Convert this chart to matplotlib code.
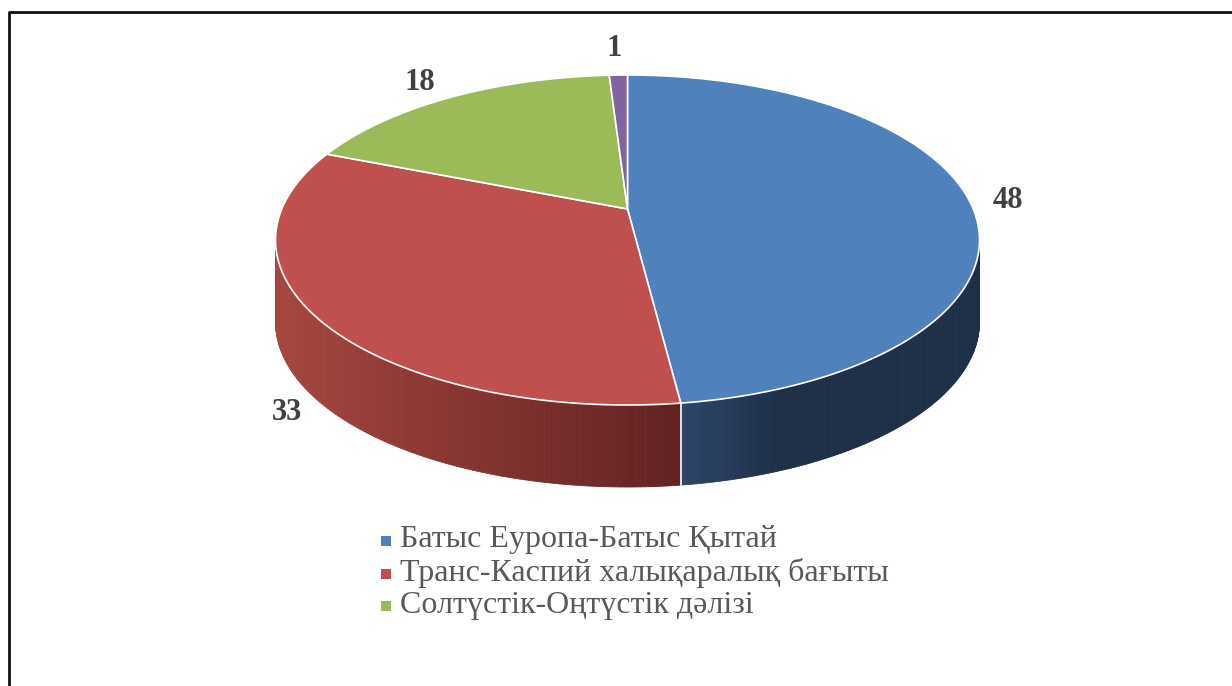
import numpy as np
import matplotlib.pyplot as plt
from matplotlib.colors import to_rgb
from matplotlib.patches import Polygon

# chart data
categories = ['Батыс Еуропа-Батыс Қытай',
              'Транс-Каспий халықаралық бағыты',
              'Солтүстік-Оңтүстік дәлізі',
              '']
values = [48, 33, 18, 1]
labels = ['48', '33', '18', '1']
top_colors = ['#4F81BD', '#C0504D', '#9BBB59', '#8064A2']
side_left = ['#2C4669', '#A6463F', '#7E9A45', '#5E4A7A']
side_right = ['#1E2F48', '#622222', '#55692E', '#3F3152']

# layout (pixels)
W, H = 1232, 686
cx, cy, a, b, depth = 627.5, 240, 352, 165, 82
persp = 0.188  # apex shift toward the back (perspective), fraction of b
ch, sh = 1 / np.sqrt(1 - persp**2), persp / np.sqrt(1 - persp**2)


def warp(t):
    # true pie angle -> angle on the projected ellipse
    t = np.radians(t)
    u, v = np.cos(t), np.sin(t)
    w = sh * v + ch
    return np.degrees(np.arctan2((ch * v + sh) / w, u / w))


def pt(t):
    t = np.radians(t)
    return cx + a * np.cos(t), cy - b * np.sin(t)


def unwrap_to(t, ref):
    while t > ref + 1e-9:
        t -= 360
    return t


fig = plt.figure(figsize=(W / 100, H / 100), dpi=100)
ax = fig.add_axes([0, 0, 1, 1])
ax.set_xlim(0, W)
ax.set_ylim(H, 0)
ax.axis('off')

# slice angles, clockwise from 12 o'clock, then projected
fracs = np.array(values) / sum(values)
starts = 90 - 360 * np.concatenate([[0], np.cumsum(fracs)[:-1]])
ends = starts - 360 * fracs
p_starts = [warp(s) for s in starts]
p_ends = []
for s, e, ps in zip(starts, ends, p_starts):
    pe = warp(e)
    pe = unwrap_to(pe, ps)
    if pe >= ps:
        pe -= 360
    p_ends.append(pe)
apex = (cx, cy - persp * b)

# side walls (front half only, angles -180..0)
for i in range(len(values)):
    s, e = p_starts[i], p_ends[i]
    for off in (0, -360, 360):
        lo = max(e + off, -180)
        hi = min(s + off, 0)
        if hi <= lo:
            continue
        ts = np.linspace(lo, hi, 120)
        xs_all = [pt(t)[0] for t in ts]
        x0, x1 = min(xs_all), max(xs_all)
        c0, c1 = np.array(to_rgb(side_left[i])), np.array(to_rgb(side_right[i]))
        for t1, t2 in zip(ts[:-1], ts[1:]):
            p1, p2 = pt(t1), pt(t2)
            xm = (p1[0] + p2[0]) / 2
            f = (xm - x0) / (x1 - x0) if x1 > x0 else 0
            if i == 0:
                f = min(1, f * 3)
            col = c0 + (c1 - c0) * f
            poly = Polygon([p1, p2, (p2[0], p2[1] + depth), (p1[0], p1[1] + depth)],
                           closed=True, facecolor=col, edgecolor=col, lw=0.6)
            ax.add_patch(poly)

# white vertical edge at blue/red boundary
bx, by = pt(p_ends[0])
ax.plot([bx, bx], [by, by + depth], color='white', lw=1.2)

# top faces
for i in range(len(values)):
    ts = np.linspace(p_starts[i], p_ends[i], 200)
    pts = [apex] + [pt(t) for t in ts]
    ax.add_patch(Polygon(pts, closed=True, facecolor=top_colors[i],
                         edgecolor='white', lw=1.2, joinstyle='round'))

# value labels
label_pos = [(1008, 200), (287, 413), (420, 82), (614, 48)]
for txt, (x, y) in zip(labels, label_pos):
    ax.text(x, y, txt, ha='center', va='center', fontsize=22, fontweight='bold',
            family='Liberation Serif', color='#404040')

# legend
for i, name in enumerate(categories[:3]):
    y = 540 + 32.5 * i
    ax.scatter([386], [y + 1], marker='s', s=52, color=top_colors[i], lw=0)
    ax.text(400, y, name, ha='left', va='center', fontsize=23,
            family='Liberation Serif', color='#595959')

# frame
ax.plot([8.5, 8.5, W], [H, 11.5, 11.5], color='#111111', lw=2.0,
        solid_capstyle='butt')

fig.savefig('out.png', dpi=100)
